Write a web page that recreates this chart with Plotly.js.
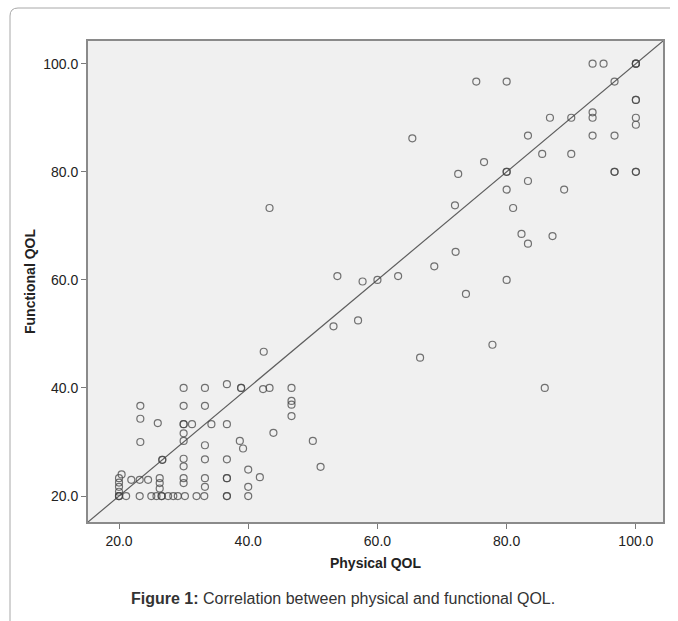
<!DOCTYPE html>
<html>
<head>
<meta charset="utf-8">
<script src="https://cdn.plot.ly/plotly-3.0.1.min.js"></script>
<style>
  html, body { margin: 0; padding: 0; background: #ffffff; }
  #chart { width: 678px; height: 621px; }
</style>
</head>
<body>
<div id="chart"></div>
<script>
// Physical QOL (x) and Functional QOL (y)
const physicalQOL = [
  93.3, 95.0, 100, 100, 100, 96.7, 75.3, 80.0, 100, 100,
  86.7, 90.0, 93.3, 93.3, 100, 100, 83.3, 93.3, 96.7, 85.5,
  90.0, 76.5, 80.0, 80.0, 96.7, 96.7, 100, 100, 83.3, 80.0,
  88.9, 81.0, 82.3, 83.3, 87.1, 80.0, 73.7, 77.8, 85.9, 72.1,
  68.8, 72.5, 72.0, 65.4, 66.6,
  53.8, 57.7, 60.0, 63.2, 53.2, 57.0, 43.3, 42.4,
  30.0, 33.3, 36.7, 38.9, 38.9, 42.3, 43.3, 46.7, 46.7, 46.7, 46.7,
  23.3, 30.0, 33.3,
  23.3, 26.0, 30.0, 30.0, 31.3, 34.3, 36.7,
  30.0, 30.0, 23.3, 33.3, 38.7, 39.2, 43.9, 50.0,
  30.0, 30.0, 33.3, 36.7, 40.0, 51.2, 26.7, 26.7,
  30.0, 33.3, 36.7, 36.7, 41.8,
  30.0, 26.3, 26.3, 26.3, 33.3,
  40.0, 40.0, 36.7, 36.7,
  20.0, 20.0, 20.0, 20.0, 20.0, 20.0, 20.0, 20.4,
  21.9, 23.2, 24.5,
  21.1, 23.2, 25.0, 25.8, 26.6, 26.6, 27.6, 28.4, 29.1, 30.2, 32.0, 33.2
];
const functionalQOL = [
  100, 100, 100, 100, 100, 96.7, 96.7, 96.7, 93.3, 93.3,
  90.0, 90.0, 91.0, 90.0, 90.0, 88.7, 86.7, 86.7, 86.7, 83.3,
  83.3, 81.8, 80.0, 80.0, 80.0, 80.0, 80.0, 80.0, 78.3, 76.7,
  76.7, 73.3, 68.5, 66.7, 68.1, 60.0, 57.4, 48.0, 40.0, 65.2,
  62.5, 79.6, 73.8, 86.2, 45.6,
  60.7, 59.7, 60.0, 60.7, 51.4, 52.5, 73.3, 46.7,
  40.0, 40.0, 40.7, 40.0, 40.0, 39.8, 40.0, 40.0, 37.6, 36.9, 34.8,
  36.7, 36.7, 36.7,
  34.3, 33.5, 33.3, 33.3, 33.3, 33.3, 33.3,
  31.6, 30.2, 30.0, 29.4, 30.2, 28.8, 31.7, 30.2,
  26.9, 25.5, 26.8, 26.8, 24.9, 25.4, 26.7, 26.7,
  23.3, 23.3, 23.3, 23.3, 23.5,
  22.4, 23.3, 22.4, 21.4, 21.7,
  21.7, 20.0, 20.0, 20.0,
  20.0, 20.0, 20.0, 20.8, 21.7, 22.5, 23.3, 24.0,
  23.0, 23.0, 23.0,
  20.0, 20.0, 20.0, 20.0, 20.0, 20.0, 20.0, 20.0, 20.0, 20.0, 20.0, 20.0
];
// Reference line y = x across the plotted range
const refLineX = [15.2, 104.2];
const refLineY = [15.2, 104.2];
const tickValues = [20, 40, 60, 80, 100];
const tickLabels = ['20.0', '40.0', '60.0', '80.0', '100.0'];
const xTitle = 'Physical QOL';
const yTitle = 'Functional QOL';
const captionText = '<b>Figure 1:</b> Correlation between physical and functional QOL.';

// paper-coordinate helpers for decorations (plot area 88..663 x 41..522 px)
const PL = 88, PR = 663, PT = 41, PB = 522;
const px2x = p => (p - PL) / (PR - PL);
const px2y = p => (PB - p) / (PB - PT);

const r = 8;
const framePath =
  'M ' + px2x(10) + ',' + px2y(625) +
  ' L ' + px2x(10) + ',' + px2y(8 + r) +
  ' Q ' + px2x(10) + ',' + px2y(8) + ' ' + px2x(10 + r) + ',' + px2y(8) +
  ' L ' + px2x(670) + ',' + px2y(8);

const traces = [
  {
    x: refLineX, y: refLineY, type: 'scatter', mode: 'lines',
    line: { color: '#5e5e5e', width: 1.2 },
    hoverinfo: 'skip', showlegend: false
  },
  {
    x: physicalQOL, y: functionalQOL, type: 'scatter', mode: 'markers',
    marker: {
      symbol: 'circle-open', size: 7,
      color: 'rgba(70,70,70,0.75)',
      line: { width: 1.2, color: 'rgba(70,70,70,0.75)' }
    },
    showlegend: false
  }
];

const axisCommon = {
  range: [15.2, 104.2],
  tickvals: tickValues, ticktext: tickLabels,
  ticks: 'outside', ticklen: 5, tickwidth: 1, tickcolor: '#7a7a7a',
  showgrid: false, zeroline: false,
  showline: true, mirror: true, linecolor: '#8a8a8a', linewidth: 2,
  tickfont: { family: 'Arial, Liberation Sans, sans-serif', size: 14, color: '#222' },
  automargin: false
};

const layout = {
  width: 678, height: 621,
  margin: { l: PL, r: 678 - PR, t: PT, b: 621 - PB },
  paper_bgcolor: '#ffffff',
  plot_bgcolor: '#f0f0f0',
  font: { family: 'Arial, Liberation Sans, sans-serif', color: '#222' },
  xaxis: Object.assign({}, axisCommon, {
    title: { text: '<b>' + xTitle + '</b>', font: { size: 14, color: '#222' }, standoff: 10 }
  }),
  yaxis: Object.assign({}, axisCommon, {
    title: { text: '<b>' + yTitle + '</b>', font: { size: 14, color: '#222' }, standoff: 4 }
  }),
  shapes: [
    { type: 'path', xref: 'paper', yref: 'paper', path: framePath,
      line: { color: '#a8a8a8', width: 1 }, layer: 'below' }
  ],
  annotations: [
    { text: captionText, xref: 'paper', yref: 'paper',
      x: px2x(343), y: px2y(598), xanchor: 'center', yanchor: 'middle',
      showarrow: false, font: { family: 'Arial, Liberation Sans, sans-serif', size: 16, color: '#333' } }
  ]
};

Plotly.newPlot('chart', traces, layout, { displayModeBar: false, staticPlot: true });
</script>
</body>
</html>
